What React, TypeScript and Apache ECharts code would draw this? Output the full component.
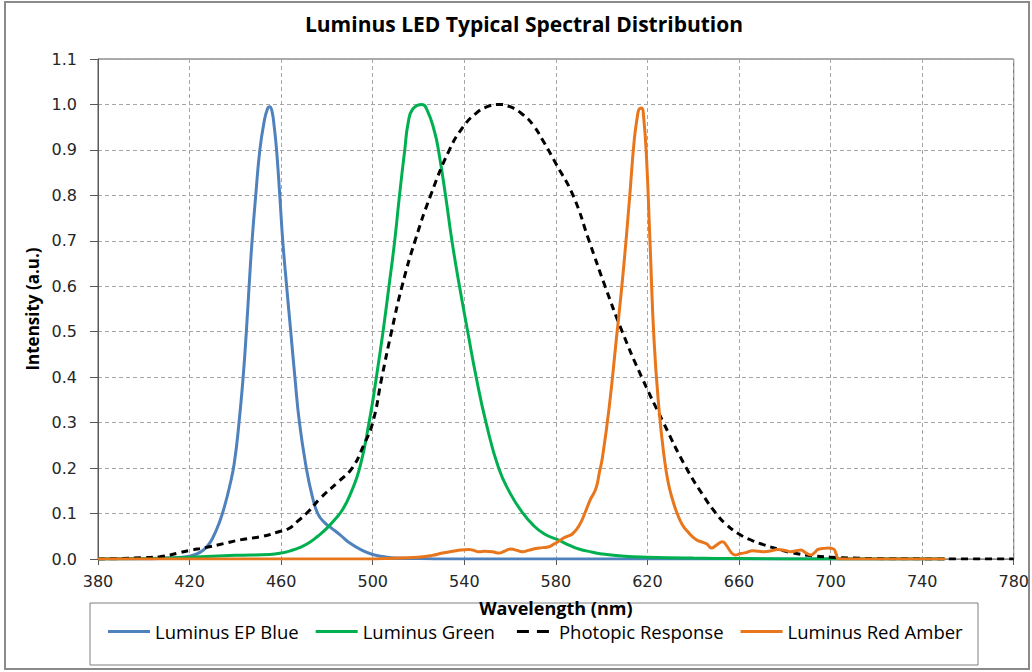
import React, { useEffect, useRef } from "react";
import * as echarts from "echarts";

// Wavelength axis ticks (nm) and intensity ticks
const xMin = 380;
const xMax = 780;
const xStep = 40;
const yMax = 1.1;
const yStep = 0.1;

const seriesNames = ["Luminus EP Blue", "Luminus Green", "Photopic Response", "Luminus Red Amber"];

// Luminus EP Blue
const blueNm = [380, 400, 410, 420, 425, 428, 430, 433, 435.5, 437.5, 439.5, 441.6, 443.4, 444.8, 446, 447.3, 448.9, 450.7, 452.5, 454, 455, 456, 457, 458, 459.4, 460.7, 462.4, 464.2, 466, 468, 471, 473.5, 476, 479, 482, 486, 490, 495, 500, 505, 510, 520, 530, 750];
const blueVal = [0, 0, 0.002, 0.006, 0.016, 0.03, 0.045, 0.08, 0.12, 0.16, 0.21, 0.3, 0.4, 0.5, 0.6, 0.7, 0.8, 0.9, 0.96, 0.99, 0.995, 0.985, 0.95, 0.9, 0.8, 0.7, 0.6, 0.5, 0.4, 0.3, 0.2, 0.14, 0.1, 0.08, 0.068, 0.052, 0.035, 0.02, 0.01, 0.005, 0.002, 0.001, 0, 0];

// Luminus Green
const greenNm = [380, 400, 420, 440, 455, 460, 464, 468, 472, 476, 480, 484, 487, 490, 494.3, 498.4, 501.6, 504.5, 507.1, 509.6, 511.7, 514, 515.5, 517.5, 521.5, 524, 527, 528.7, 531.8, 534.6, 537.9, 541.5, 545.2, 549.5, 555, 560, 565, 570, 575, 581, 586, 590, 596, 600, 610, 620, 640, 660, 700, 750];
const greenVal = [0, 0.001, 0.004, 0.008, 0.01, 0.013, 0.018, 0.025, 0.035, 0.05, 0.068, 0.09, 0.11, 0.14, 0.2, 0.3, 0.4, 0.5, 0.6, 0.7, 0.8, 0.9, 0.96, 0.99, 1.0, 0.985, 0.94, 0.9, 0.8, 0.7, 0.6, 0.5, 0.4, 0.3, 0.2, 0.145, 0.105, 0.075, 0.055, 0.042, 0.03, 0.022, 0.015, 0.011, 0.006, 0.004, 0.002, 0.001, 0, 0];

// Photopic Response
const photNm = [380, 390, 400, 407, 415, 420, 427, 435, 442, 452, 459, 463, 467, 472, 477, 485, 491, 496, 500, 504, 508.2, 512.8, 518.5, 525.3, 533.5, 539.4, 545, 550, 555, 560, 565.5, 570, 575, 580, 587.5, 594.5, 601.5, 609, 617.5, 627, 637, 645, 650, 654, 660, 666, 671, 677, 683, 692, 700, 710, 720, 740, 760, 780];
const photVal = [0, 0.001, 0.003, 0.005, 0.013, 0.019, 0.025, 0.034, 0.042, 0.05, 0.06, 0.066, 0.082, 0.105, 0.133, 0.17, 0.2, 0.25, 0.3, 0.4, 0.5, 0.6, 0.7, 0.8, 0.9, 0.95, 0.98, 0.995, 1.0, 0.995, 0.978, 0.955, 0.915, 0.87, 0.8, 0.7, 0.6, 0.5, 0.4, 0.3, 0.2, 0.135, 0.1, 0.078, 0.055, 0.04, 0.031, 0.022, 0.014, 0.007, 0.004, 0.002, 0.001, 0.0003, 0, 0];

// Luminus Red Amber
const amberNm = [380, 500, 505, 515, 522, 526, 530.5, 535, 538.5, 542, 544, 546.4, 549, 552.2, 555.2, 557.5, 560.3, 563, 565.3, 568, 571.2, 574, 577, 579.2, 581.5, 583, 585, 587.2, 590, 593, 595, 597.5, 599, 600.4, 603.3, 606.2, 609.2, 612.1, 614.2, 615.5, 616.4, 617.5, 618.3, 619.6, 621.1, 622.9, 625.1, 627.3, 629, 631, 633, 635.3, 638, 641.2, 644, 646, 648, 650, 652.8, 654.5, 656.5, 658.3, 660.8, 663, 665.9, 668.5, 671, 674, 676.8, 680, 682.6, 685, 687, 689, 691.4, 693, 694.5, 696.5, 699, 701.3, 702.5, 703.5, 750];
const amberVal = [0, 0, 0.001, 0.003, 0.005, 0.008, 0.013, 0.017, 0.02, 0.021, 0.019, 0.016, 0.017, 0.016, 0.013, 0.017, 0.022, 0.019, 0.016, 0.019, 0.023, 0.025, 0.027, 0.033, 0.04, 0.045, 0.05, 0.055, 0.072, 0.105, 0.13, 0.155, 0.19, 0.225, 0.334, 0.473, 0.62, 0.788, 0.92, 0.97, 0.99, 0.992, 0.975, 0.883, 0.7, 0.48, 0.327, 0.225, 0.17, 0.13, 0.1, 0.075, 0.058, 0.043, 0.037, 0.033, 0.024, 0.03, 0.038, 0.03, 0.015, 0.009, 0.012, 0.014, 0.018, 0.017, 0.016, 0.018, 0.021, 0.019, 0.016, 0.018, 0.02, 0.014, 0.009, 0.014, 0.021, 0.023, 0.024, 0.022, 0.01, 0, 0];

const colors = ["#4f81bd", "#00b050", "#000000", "#e8761c"];

const solidIcon = "path://M0,0H42V3H0Z";
const dashedIcon = "path://M0,0Z M42,3Z M5,0H17V3H5Z M25,0H37V3H25Z";

const pairs = (xs: number[], ys: number[]) => xs.map((x, i) => [x, ys[i]]);

export default function App() {
  const ref = useRef<HTMLDivElement>(null);
  useEffect(() => {
    document.body.style.margin = "0";
    const chart = echarts.init(ref.current!, undefined, { renderer: "svg" });
    const lineSeries = (name: string, data: number[][], color: string, dashed = false) => ({
      name,
      type: "line",
      data,
      showSymbol: false,
      symbol: "none",
      smooth: 0.5,
      lineStyle: { color, width: 3, type: dashed ? [7, 5] : "solid" },
      itemStyle: { color },
    });
    chart.setOption({
      animation: false,
      backgroundColor: "#ffffff",
      graphic: [
        {
          type: "rect",
          shape: { x: 5, y: 2, width: 1024, height: 667 },
          style: { fill: "none", stroke: "#8a8a8a", lineWidth: 2 },
          silent: true,
        },
        {
          type: "rect",
          shape: { x: 90, y: 603, width: 888, height: 62 },
          style: { fill: "none", stroke: "#7f7f7f", lineWidth: 1 },
          silent: true,
        },
        {
          type: "text",
          x: 524,
          y: 13,
          style: {
            text: "Luminus LED Typical Spectral Distribution",
            fontFamily: "Open Sans",
            fontWeight: "bold",
            fontSize: 21,
            fill: "#000",
            textAlign: "center",
            textVerticalAlign: "top",
          },
        },
      ],
      legend: {
        data: [
          { name: seriesNames[0], icon: solidIcon },
          { name: seriesNames[1], icon: solidIcon },
          { name: seriesNames[2], icon: dashedIcon },
          { name: seriesNames[3], icon: solidIcon },
        ],
        left: 108,
        top: 622,
        padding: 0,
        itemWidth: 42,
        itemHeight: 3,
        itemGap: 17,
        textStyle: { fontFamily: "Open Sans", fontSize: 18.5, color: "#000" },
      },
      grid: {
        left: 98,
        right: 16,
        top: 59,
        bottom: 113,
        show: true,
        borderColor: "#595959",
        borderWidth: 1,
        backgroundColor: "transparent",
      },
      xAxis: {
        type: "value",
        min: xMin,
        max: xMax,
        interval: xStep,
        name: "Wavelength (nm)",
        nameLocation: "middle",
        nameGap: 40,
        nameTextStyle: { fontFamily: "Open Sans", fontWeight: "bold", fontSize: 18, color: "#000" },
        axisLine: { show: true, lineStyle: { color: "#8c8c8c", width: 1 } },
        axisTick: { show: true, inside: false, length: 6, lineStyle: { color: "#595959" } },
        axisLabel: {
          fontFamily: "DejaVu Sans",
          fontSize: 16,
          color: "#262626",
          margin: 14,
        },
        splitLine: { show: true, lineStyle: { color: "#a6a6a6", type: [4, 3], width: 1 } },
      },
      yAxis: {
        type: "value",
        min: 0,
        max: yMax,
        interval: yStep,
        name: "Intensity (a.u.)",
        nameLocation: "middle",
        nameGap: 54,
        nameTextStyle: { fontFamily: "Open Sans", fontWeight: "bold", fontSize: 17, color: "#000" },
        axisLine: { show: true, lineStyle: { color: "#595959", width: 1 } },
        axisTick: { show: true, inside: false, length: 8, lineStyle: { color: "#595959" } },
        axisLabel: {
          fontFamily: "DejaVu Sans",
          fontSize: 16,
          color: "#262626",
          margin: 21,
          formatter: (v: number) => v.toFixed(1),
        },
        splitLine: { show: true, lineStyle: { color: "#a6a6a6", type: [4, 3], width: 1 } },
      },
      series: [
        lineSeries(seriesNames[0], pairs(blueNm, blueVal), colors[0]),
        lineSeries(seriesNames[1], pairs(greenNm, greenVal), colors[1]),
        lineSeries(seriesNames[2], pairs(photNm, photVal), colors[2], true),
        lineSeries(seriesNames[3], pairs(amberNm, amberVal), colors[3]),
      ],
    });
    return () => chart.dispose();
  }, []);
  return <div ref={ref} style={{ width: 1032, height: 672 }} />;
}
